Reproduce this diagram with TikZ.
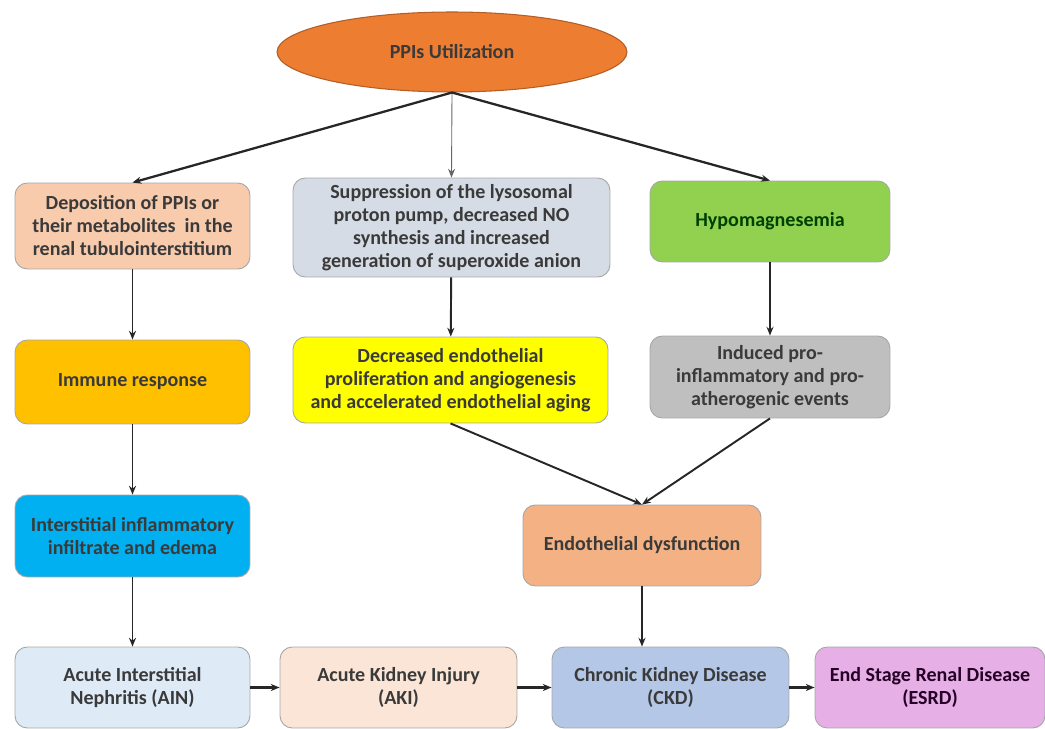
\documentclass[tikz,border=0pt]{standalone}
\usepackage{fontspec}
\setmainfont{Carlito}
\usetikzlibrary{shapes.geometric,arrows.meta}
\definecolor{ppiorange}{HTML}{ED7D31}
\definecolor{peach}{HTML}{F8CBAD}
\definecolor{bluegrey}{HTML}{D6DCE5}
\definecolor{hypogreen}{HTML}{92D050}
\definecolor{amber}{HTML}{FFC000}
\definecolor{brightyellow}{HTML}{FFFF00}
\definecolor{midgrey}{HTML}{BFBFBF}
\definecolor{skyblue}{HTML}{00B0F0}
\definecolor{salmon}{HTML}{F4B183}
\definecolor{paleblue}{HTML}{DEEBF7}
\definecolor{palepeach}{HTML}{FBE5D6}
\definecolor{steelblue}{HTML}{B4C7E7}
\definecolor{orchid}{HTML}{E6B0E6}
\definecolor{txt}{HTML}{3A3A3A}
\tikzstyle{box}=[shape=rectangle, rounded corners=7pt, draw=gray!70, line width=0.5pt, align=center, inner sep=2pt, font=\bfseries\fontsize{11.4}{13.1}\selectfont, text=txt]
\tikzstyle{link}=[-{Stealth[length=5pt,width=4pt]}, line width=1.1pt, black!85]

\begin{document}
\begin{tikzpicture}[x=0.02cm, y=-0.02cm]
\useasboundingbox (0,0) rectangle (1045,729);
\node[ellipse, fill=ppiorange, draw=ppiorange!75!black, line width=0.6pt, minimum width=7cm, minimum height=1.6cm, font=\bfseries\fontsize{11.4}{13.1}\selectfont, text=txt] (ppi) at (452,52) {PPIs Utilization};
\node[box, fill=peach, minimum width=4.7cm, minimum height=1.72cm] (dep) at (132.5,226) {Deposition of PPIs or\\their metabolites\ \ in the\\renal tubulointerstitium};
\node[box, fill=bluegrey, minimum width=6.34cm, minimum height=1.98cm] (sup) at (451.5,227.5) {Suppression of the lysosomal\\proton pump, decreased NO\\synthesis and increased\\generation of superoxide anion};
\node[box, fill=hypogreen, minimum width=4.8cm, minimum height=1.62cm, text=green!25!black] (hypo) at (770,221.5) {Hypomagnesemia};
\node[box, fill=amber, minimum width=4.7cm, minimum height=1.68cm] (imm) at (132.5,382) {Immune response};
\node[box, fill=brightyellow, minimum width=6.3cm, minimum height=1.72cm] (dec) at (450.5,380) {Decreased endothelial\\proliferation and angiogenesis\\and accelerated endothelial aging};
\node[box, fill=midgrey, minimum width=4.8cm, minimum height=1.64cm] (ind) at (770,377) {Induced pro-\\inflammatory and pro-\\atherogenic events};
\node[box, fill=skyblue, minimum width=4.7cm, minimum height=1.64cm] (inter) at (132.5,536) {Interstitial inflammatory\\infiltrate and edema};
\node[box, fill=salmon, minimum width=4.76cm, minimum height=1.62cm] (endo) at (642,545.5) {Endothelial dysfunction};
\node[box, fill=paleblue, minimum width=4.7cm, minimum height=1.62cm] (ain) at (132.5,687.5) {Acute Interstitial\\Nephritis (AIN)};
\node[box, fill=palepeach, minimum width=4.74cm, minimum height=1.62cm] (aki) at (398.5,687.5) {Acute Kidney Injury\\(AKI)};
\node[box, fill=steelblue, minimum width=4.74cm, minimum height=1.62cm] (ckd) at (670.5,687.5) {Chronic Kidney Disease\\(CKD)};
\node[box, fill=orchid, minimum width=4.6cm, minimum height=1.62cm, text=violet!30!black] (esrd) at (930,687.5) {End Stage Renal Disease\\(ESRD)};
% from the top
\draw[link, line width=1.3pt] (ppi.south) -- (dep.north);
\draw[link, line width=0.5pt, black!60] (ppi.south) -- (sup.north);
\draw[link, line width=1.3pt] (ppi.south) -- (hypo.north);
% columns
\draw[link] (dep) -- (imm);
\draw[link] (imm) -- (inter);
\draw[link] (inter) -- (ain);
\draw[link] (sup) -- (dec);
\draw[link] (hypo) -- (ind);
\draw[link] (dec.south) -- (endo.north);
\draw[link] (ind.south) -- (endo.north);
\draw[link] (endo) -- (ckd.north -| endo.south);
% bottom row
\draw[link, line width=1.5pt] (ain) -- (aki);
\draw[link, line width=1.5pt] (aki) -- (ckd);
\draw[link, line width=1.5pt] (ckd) -- (esrd);
\end{tikzpicture}
\end{document}
